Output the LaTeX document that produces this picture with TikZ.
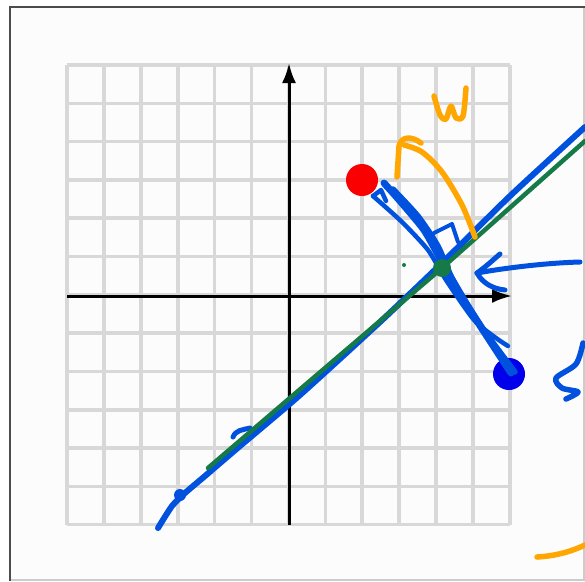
\documentclass[tikz,border=0pt]{standalone}
\definecolor{gridgray}{RGB}{216, 216, 216}
\definecolor{inkblue}{RGB}{0, 82, 222}
\definecolor{inkgreen}{RGB}{22, 122, 72}
\definecolor{inkorange}{RGB}{255, 166, 0}
\definecolor{dotred}{RGB}{250, 0, 0}
\definecolor{dotblue}{RGB}{0, 0, 235}
\usetikzlibrary{arrows.meta}
\tikzset{
	frameline/.style={draw=black!70, line width=1.8pt},
	gridline/.style={draw=gridgray, line width=3.6pt},
	axisline/.style={-{Latex[length=20pt, width=14pt]}, line width=3pt, draw=black},
	blueink/.style={draw=inkblue, line width=6pt, line cap=round, line join=round},
	greenink/.style={draw=inkgreen, line width=4.5pt, line cap=round},
	orangeink/.style={draw=inkorange, line width=5.5pt, line cap=round, line join=round},
	bigdot/.style={circle, inner sep=0pt, minimum size=32pt},
}

\begin{document}
\begin{tikzpicture}[x=1pt, y=-1pt]
	\useasboundingbox (0,0) rectangle (585,581);
	% frame of the screenshot
	\fill[black!1] (10,7) rectangle (584,580);
	\draw[draw=black!20, line width=1.2pt] (584,7) -- (584,580) -- (10,580);
	\draw[frameline] (10,581) -- (10,7) -- (585,7);
	% grid and axes
	\foreach \i in {0,...,12} {
		\draw[gridline] ({67+36.9*\i},65) -- ({67+36.9*\i},525);
		\draw[gridline] (67,{65+38.3*\i}) -- (510,{65+38.3*\i});
	}
	\coordinate (xstart) at (67,296);
	\coordinate (xend) at (512,296);
	\coordinate (ystart) at (289,525);
	\coordinate (yend) at (289,63);
	\draw[axisline] (xstart) -- (xend);
	\draw[axisline] (ystart) -- (yend);
	% points
	\node[bigdot, fill=dotred] (red) at (362,180) {};
	\node[bigdot, fill=dotblue] (blue) at (509,374) {};
	\node[circle, inner sep=0pt, minimum size=4pt, fill=inkgreen] (mid) at (404,265) {};
	% fitted line
	\draw[blueink] plot[smooth, tension=0.4] coordinates {(158,528) (172,506) (185,493) (205,476) (240,446) (300,395) (380,322) (442,263) (510,196) (585,127)};
	\fill[inkblue] (180,495) circle (6pt);
	\draw[blueink, line width=5pt] (233,437) .. controls (236,430) and (242,430) .. (250,428);
	% perpendicular strokes
	\draw[blueink, line width=7pt] plot[smooth, tension=0.4] coordinates {(384,183) (400,201) (424,230) (442,262) (470,310) (511,373)};
	\draw[blueink, line width=4.5pt] plot[smooth, tension=0.4] coordinates {(373,196) (402,222) (428,250) (446,280) (474,320) (496,338) (508,346)};
	\draw[blueink, line width=5.5pt] plot[smooth, tension=0.4] coordinates {(393,189) (418,216) (438,246) (454,282) (484,330) (515,372)};
	\draw[blueink, line width=4.5pt] (373,196) -- (381,190) -- (386,201);
	\draw[blueink, line width=4pt] (434,233) -- (452,224) -- (458,242);
	% projection on the line
	\node[circle, inner sep=0pt, minimum size=18pt, fill=inkgreen] (proj) at (442,268) {};
	\draw[greenink] (208,468) -- (proj) -- (585,141);
	% arrow to projection
	\draw[blueink, line width=5pt] (580,262) .. controls (545,263) and (505,268) .. (477,273);
	\draw[blueink, line width=5pt] (477,273) .. controls (488,265) and (494,259) .. (500,254);
	\draw[blueink, line width=5pt] (477,273) .. controls (483,284) and (494,289) .. (505,290);
	% label s
	\draw[blueink, line width=5.5pt] plot[smooth] coordinates {(583,343) (576,364) (556,378) (562,388) (578,392) (566,399)};
	% normal vector w
	\draw[orangeink] plot[smooth, tension=0.5] coordinates {(475,237) (462,205) (442,172) (422,152) (404,145)};
	\draw[orangeink] (397,177) -- (399,146) .. controls (401,136) and (412,136) .. (421,143);
	\draw[orangeink] plot[smooth] coordinates {(434,96) (440,115) (446,119) (451,106) (456,118) (463,116) (466,88)};
	\draw[orangeink] (537,557) .. controls (555,556) and (570,552) .. (585,545);
\end{tikzpicture}
\end{document}
